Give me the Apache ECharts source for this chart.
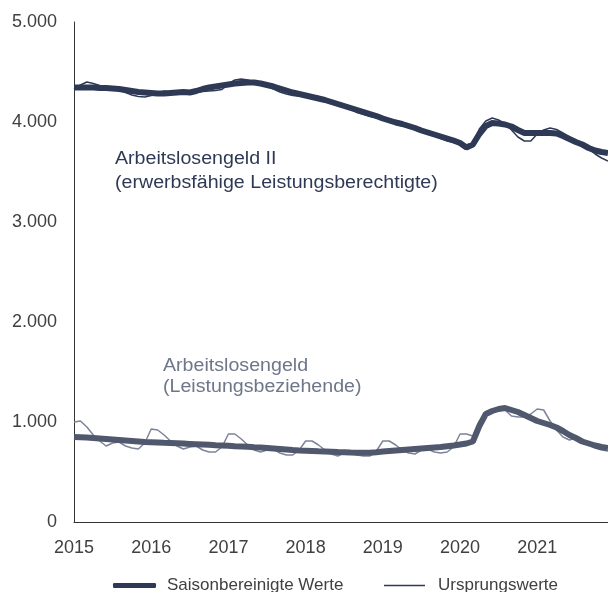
<!DOCTYPE html>
<html>
<head>
<meta charset="utf-8">
<script src="https://cdn.jsdelivr.net/npm/echarts@6/dist/echarts.min.js"></script>
<style>
  html, body { margin: 0; padding: 0; background: #fff; }
  #chart { width: 608px; height: 592px; }
</style>
</head>
<body>
<div id="chart"></div>
<script>
// Monatswerte Jan 2015 - Dez 2021, in Tausend
const years = ['2015', '2016', '2017', '2018', '2019', '2020', '2021']
const yTicks = [0, 1000, 2000, 3000, 4000, 5000]

const alg2Sa = [
  4345, 4345, 4345, 4345, 4340, 4340, 4335, 4330, 4320, 4310, 4300, 4295,
  4290, 4285, 4285, 4290, 4295, 4300, 4295, 4310, 4330, 4345, 4355, 4365,
  4375, 4385, 4390, 4395, 4395, 4385, 4370, 4355, 4335, 4315, 4295, 4280,
  4265, 4250, 4235, 4220, 4200, 4180, 4160, 4140, 4120, 4100, 4080, 4060,
  4035, 4015, 3995, 3980, 3960, 3940, 3915, 3895, 3875, 3855, 3835, 3815,
  3790, 3745, 3775, 3880, 3960, 3990, 3985, 3975, 3955, 3920, 3890, 3890,
  3890, 3890, 3890, 3885, 3860, 3830, 3800, 3775, 3740, 3715, 3700, 3690
]
const alg2Orig = [
  4330, 4370, 4400, 4385, 4365, 4340, 4335, 4320, 4295, 4270, 4255, 4250,
  4265, 4290, 4310, 4300, 4290, 4285, 4290, 4295, 4305, 4310, 4315, 4325,
  4380, 4420, 4430, 4420, 4400, 4385, 4360, 4330, 4300, 4280, 4265, 4260,
  4260, 4265, 4255, 4235, 4210, 4185, 4160, 4130, 4095, 4075, 4055, 4040,
  4030, 4030, 4015, 3995, 3975, 3950, 3920, 3890, 3860, 3835, 3810, 3795,
  3780, 3755, 3790, 3930, 4010, 4040, 4020, 3980, 3920, 3850, 3810, 3810,
  3880, 3920, 3940, 3925, 3890, 3850, 3810, 3775, 3730, 3680, 3640, 3610
]
const alg1Sa = [
  850, 848, 845, 840, 835, 830, 825, 820, 815, 810, 805, 800,
  798, 795, 792, 790, 787, 784, 781, 778, 775, 772, 768, 765,
  762, 758, 755, 752, 748, 745, 740, 735, 730, 725, 720, 716,
  713, 710, 707, 705, 703, 700, 698, 695, 693, 692, 693, 698,
  705, 710, 715, 720, 725, 730, 735, 740, 745, 750, 758, 765,
  775, 785, 805, 960, 1080, 1110, 1130, 1140, 1120, 1100, 1070, 1040,
  1010, 990, 970, 945, 910, 870, 840, 805, 785, 765, 750, 740
]
const alg1Orig = [
  1000, 1010, 950, 870, 810, 760, 790, 800, 760, 740, 730, 790,
  930, 920, 870, 810, 760, 730, 750, 760, 720, 700, 700, 750,
  880, 880, 830, 770, 720, 700, 720, 730, 690, 670, 670, 720,
  810, 810, 770, 720, 680, 660, 690, 700, 670, 660, 660, 710,
  810, 810, 770, 720, 690, 680, 720, 730, 700, 690, 700, 750,
  880, 880, 860, 1010, 1060, 1090, 1140, 1120, 1060, 1050, 1050, 1080,
  1130, 1120, 1010, 920, 850, 820, 840, 820, 770, 740, 720, 710
]

const months = []
years.forEach(y => {
  for (let m = 1; m <= 12; m++) months.push(y + '-' + (m < 10 ? '0' + m : m))
})

const dark = '#2e3a55'
const alg1Dark = '#4f586c'
const alg1Light = '#7c8499'
const font = 'Liberation Sans, Arial, sans-serif'

const chart = echarts.init(document.getElementById('chart'))
chart.setOption({
  animation: false,
  grid: { left: 74, right: 0, top: 22, bottom: 70 },
  xAxis: {
    type: 'category',
    data: months,
    boundaryGap: false,
    axisLine: { lineStyle: { color: '#333', width: 1 } },
    axisTick: { show: false },
    axisLabel: {
      interval: (i) => i % 12 === 0,
      formatter: (v) => v.slice(0, 4),
      margin: 17,
      color: '#404040',
      fontSize: 18,
      fontFamily: font
    }
  },
  yAxis: {
    type: 'value',
    min: 0,
    max: 5000,
    interval: 1000,
    splitLine: { show: false },
    axisLine: { show: true, lineStyle: { color: '#333', width: 1 } },
    axisLabel: {
      margin: 17,
      color: '#404040',
      fontSize: 18,
      fontFamily: font,
      formatter: (v) => yTicks.includes(v) ? String(v).replace(/\B(?=(\d{3})+$)/g, '.') : ''
    }
  },
  legend: [
    {
      data: ['Saisonbereinigte Werte'],
      left: 108,
      top: 572,
      icon: 'roundRect',
      itemWidth: 43,
      itemHeight: 5,
      itemGap: 0,
      textStyle: { color: '#404040', fontSize: 17, fontFamily: font, padding: [0, 0, 0, 6] }
    },
    {
      data: ['Ursprungswerte'],
      left: 379,
      top: 572,
      icon: 'rect',
      itemWidth: 41,
      itemHeight: 1.5,
      textStyle: { color: '#404040', fontSize: 17, fontFamily: font, padding: [0, 0, 0, 8] }
    }
  ],
  graphic: [
    {
      type: 'text', x: 115, y: 147, scaleX: 1.09,
      style: {
        text: 'Arbeitslosengeld II\n(erwerbsfähige Leistungsberechtigte)',
        fill: dark, font: '18px ' + font, lineHeight: 24, verticalAlign: 'top'
      }
    },
    {
      type: 'text', x: 163, y: 356, scaleX: 1.09,
      style: {
        text: 'Arbeitslosengeld\n(Leistungsbeziehende)',
        fill: '#6e768a', font: '18px ' + font, lineHeight: 21, verticalAlign: 'top'
      }
    }
  ],
  series: [
    {
      name: 'Saisonbereinigte Werte', type: 'line', data: alg2Sa, symbol: 'none',
      color: dark, lineStyle: { width: 6, color: dark }, z: 3
    },
    {
      name: 'Ursprungswerte', type: 'line', data: alg2Orig, symbol: 'none',
      color: dark, lineStyle: { width: 1.5, color: dark }, z: 4
    },
    {
      name: 'Saisonbereinigte Werte', type: 'line', data: alg1Sa, symbol: 'none',
      color: alg1Dark, lineStyle: { width: 6, color: alg1Dark }, z: 3
    },
    {
      name: 'Ursprungswerte', type: 'line', data: alg1Orig, symbol: 'none',
      color: alg1Light, lineStyle: { width: 1.5, color: alg1Light }, z: 2
    }
  ]
})
</script>
</body>
</html>
